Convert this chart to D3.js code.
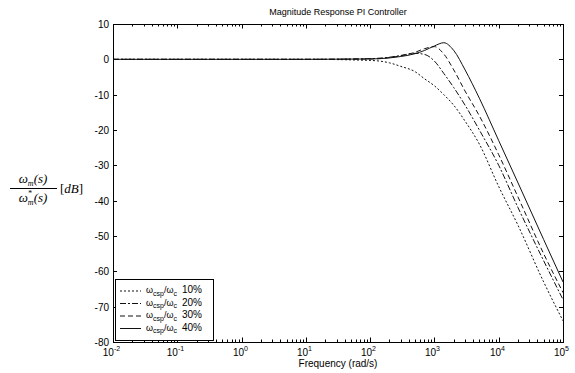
<!DOCTYPE html>
<html>
<head>
<meta charset="utf-8">
<script src="https://cdn.jsdelivr.net/npm/d3@7"></script>
<style>
  html, body { margin: 0; padding: 0; background: #fff; }
  svg { display: block; }
</style>
</head>
<body>
<svg id="chart" width="575" height="373"></svg>
<script>
// ---- data ----
const frequency = [0.01, 0.1, 1, 10, 100, 200, 300, 500, 700, 1000, 1400, 2000, 3000, 5000, 10000, 20000, 50000, 100000];
const mag10 = [0, 0, 0, 0, -0.3, -1, -2, -3.5, -5.5, -7.5, -10, -13, -17.5, -24, -36, -47, -63, -74];
const mag20 = [0, 0, 0, 0, 0.2, 0.6, 1.1, 1.7, 1.4, -0.5, -4, -8, -13, -20, -30, -42, -57, -68];
const mag30 = [0, 0, 0, 0, 0.1, 0.5, 1.0, 2.0, 3.0, 3.6, 1.5, -3, -9, -16, -27, -39, -55, -66];
const mag40 = [0, 0, 0, 0, 0.1, 0.4, 0.8, 1.6, 2.5, 3.8, 4.7, 2.5, -3, -11, -23, -35, -51, -63];
const seriesLabels = ["10%", "20%", "30%", "40%"];
const yTicks = [10, 0, -10, -20, -30, -40, -50, -60, -70, -80];
const xTickExponents = [-2, -1, 0, 1, 2, 3, 4, 5];
const titleText = "Magnitude Response  PI Controller";
const xLabelText = "Frequency (rad/s)";

(function () {
const series = [mag10, mag20, mag30, mag40];
const dashes = ["2,2", "6,2,2,2", "5,3", null];

// ---- layout ----
const svg = d3.select("#chart");
const pl = 113, pr = 563, pt = 24, pb = 342;
const x = d3.scaleLog().domain([1e-2, 1e5]).range([pl, pr]);
const y = d3.scaleLinear().domain([-80, 10]).range([pb, pt]);
const font = "'Liberation Sans', Arial, sans-serif";
const serif = "'Liberation Serif', 'DejaVu Serif', serif";

// box
svg.append("rect").attr("x", pl + 0.5).attr("y", pt + 0.5).attr("width", pr - pl).attr("height", pb - pt)
  .attr("fill", "none").attr("stroke", "#000").attr("stroke-width", 1);

// y ticks (inward, left and right)
yTicks.forEach(t => {
  const yy = Math.round(y(t)) + 0.5;
  svg.append("line").attr("x1", pl).attr("x2", pl + 4).attr("y1", yy).attr("y2", yy).attr("stroke", "#000");
  svg.append("line").attr("x1", pr - 4).attr("x2", pr).attr("y1", yy).attr("y2", yy).attr("stroke", "#000");
  svg.append("text").attr("x", pl - 4).attr("y", yy + 3.5).attr("text-anchor", "end")
    .attr("font-family", font).attr("font-size", 10).text(t < 0 ? "-" + Math.abs(t) : String(t));
});

// x ticks major + minor
const minor = [];
for (let e = -2; e < 5; e++) for (let k = 2; k <= 9; k++) minor.push(k * Math.pow(10, e));
minor.forEach(v => {
  const xx = Math.round(x(v)) + 0.5;
  svg.append("line").attr("x1", xx).attr("x2", xx).attr("y1", pb).attr("y2", pb - 2.5).attr("stroke", "#000");
  svg.append("line").attr("x1", xx).attr("x2", xx).attr("y1", pt).attr("y2", pt + 2.5).attr("stroke", "#000");
});
xTickExponents.forEach(e => {
  const xx = Math.round(x(Math.pow(10, e))) + 0.5;
  svg.append("line").attr("x1", xx).attr("x2", xx).attr("y1", pb).attr("y2", pb - 4.5).attr("stroke", "#000");
  svg.append("line").attr("x1", xx).attr("x2", xx).attr("y1", pt).attr("y2", pt + 4.5).attr("stroke", "#000");
  const t = svg.append("text").attr("x", xx - 2).attr("y", pb + 14).attr("text-anchor", "middle")
    .attr("font-family", font).attr("font-size", 10);
  t.append("tspan").text("10");
  t.append("tspan").attr("dy", -5).attr("font-size", 7).text(String(e));
});

// curves
const line = d3.line().x((d, i) => x(frequency[i])).y(d => y(d)).curve(d3.curveMonotoneX);
svg.append("defs").append("clipPath").attr("id", "clip").append("rect")
  .attr("x", pl).attr("y", pt).attr("width", pr - pl).attr("height", pb - pt);
series.forEach((s, i) => {
  svg.append("path").datum(s).attr("d", line).attr("fill", "none")
    .attr("stroke", "#111").attr("stroke-width", 1)
    .attr("stroke-dasharray", dashes[i]).attr("clip-path", "url(#clip)");
});

// legend
const lg = svg.append("g");
lg.append("rect").attr("x", 115.5).attr("y", 279.5).attr("width", 98).attr("height", 61)
  .attr("fill", "#fff").attr("stroke", "#000").attr("stroke-width", 1);
seriesLabels.forEach((lab, i) => {
  const ly = 291 + i * 12.5;
  lg.append("line").attr("x1", 120).attr("x2", 141).attr("y1", ly).attr("y2", ly)
    .attr("stroke", "#111").attr("stroke-dasharray", dashes[i]);
  const t = lg.append("text").attr("x", 146).attr("y", ly + 2).attr("font-family", font)
    .attr("font-size", 9).attr("fill", "#000");
  t.append("tspan").text("ω");
  t.append("tspan").attr("dy", 2.5).attr("font-size", 7).text("csp");
  t.append("tspan").attr("dy", -2.5).text("/ω");
  t.append("tspan").attr("dy", 2.5).attr("font-size", 7).text("c");
  t.append("tspan").attr("dy", -2.5).attr("dx", 5).attr("font-size", 10).text(lab);
});

// title
svg.append("text").attr("x", (pl + pr) / 2).attr("y", 15).attr("text-anchor", "middle")
  .attr("font-family", font).attr("font-size", 9).text(titleText);

// x label
svg.append("text").attr("x", (pl + pr) / 2).attr("y", 367).attr("text-anchor", "middle")
  .attr("font-family", font).attr("font-size", 10).text(xLabelText);

// y label (fraction)
const yl = svg.append("g").attr("font-family", serif).attr("font-style", "italic").attr("fill", "#000");
const num = yl.append("text").attr("x", 33).attr("y", 183).attr("text-anchor", "middle").attr("font-size", 13);
num.append("tspan").text("ω");
num.append("tspan").attr("dy", 3).attr("font-size", 8).text("m");
num.append("tspan").attr("dy", -3).text("(s)");
yl.append("line").attr("x1", 10).attr("x2", 57).attr("y1", 188.5).attr("y2", 188.5).attr("stroke", "#000").attr("stroke-width", 1);
const den = yl.append("text").attr("x", 33).attr("y", 202).attr("text-anchor", "middle").attr("font-size", 13);
den.append("tspan").text("ω");
den.append("tspan").attr("dy", -6).attr("font-size", 8).text("*");
den.append("tspan").attr("dy", 9).attr("dx", -4).attr("font-size", 8).text("m");
den.append("tspan").attr("dy", -3).text("(s)");
const db = yl.append("text").attr("x", 60).attr("y", 193).attr("font-size", 13);
db.append("tspan").attr("font-style", "normal").text("[");
db.append("tspan").text("dB");
db.append("tspan").attr("font-style", "normal").text("]");
})();
</script>
</body>
</html>
